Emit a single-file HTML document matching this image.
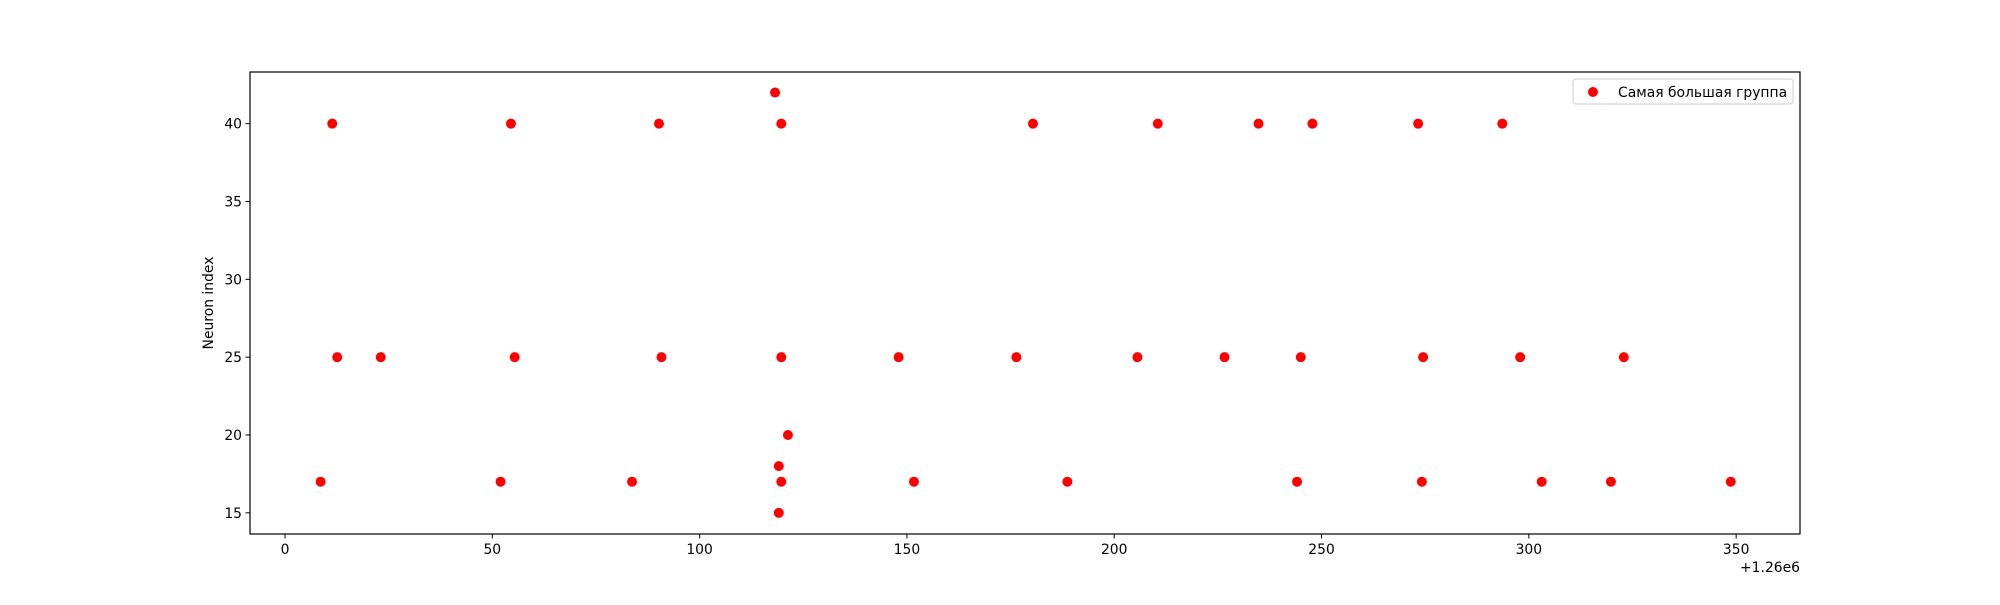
<!DOCTYPE html>
<html><head><meta charset="utf-8"><style>
html,body{margin:0;padding:0;background:#fff;}
svg text{font-family:"DejaVu Sans","Liberation Sans",sans-serif;font-size:13.9px;fill:#000;}
</style></head><body>
<svg id="chart" width="2000" height="600" xmlns="http://www.w3.org/2000/svg">
<rect x="0" y="0" width="2000" height="600" fill="#fff"/>
<g id="marks"></g>
<g id="axes"></g>
</svg>
<script>
const xValues = [11.4,54.5,90.2,119.7,180.4,210.5,234.8,247.8,273.3,293.6,
  118.2,
  12.6,23.1,55.4,90.8,119.7,148.0,176.4,205.6,226.6,245.0,274.5,297.9,322.9,
  121.3,119.1,
  8.6,52.0,83.7,119.7,151.7,188.7,244.1,274.2,303.1,319.8,348.7,
  119.1];
const yValues = [40,40,40,40,40,40,40,40,40,40,
  42,
  25,25,25,25,25,25,25,25,25,25,25,25,25,
  20,18,
  17,17,17,17,17,17,17,17,17,17,17,
  15];
const xTicks = [0,50,100,150,200,250,300,350];
const yTicks = [15,20,25,30,35,40];
const seriesLabel = "Самая большая группа";

const L=250,R=1800,T=72,B=534;
const xMin=-8.44,xMax=365.4,yMin=13.64,yMax=43.32;
const sx=v=>L+(v-xMin)/(xMax-xMin)*(R-L);
const sy=v=>B-(v-yMin)/(yMax-yMin)*(B-T);
const NS="http://www.w3.org/2000/svg";
function mk(tag,attrs,parent){const e=document.createElementNS(NS,tag);for(const k in attrs)e.setAttribute(k,attrs[k]);parent.appendChild(e);return e;}
const marks=document.getElementById('marks'),axes=document.getElementById('axes');
xValues.forEach((x,i)=>{
  const c=mk('circle',{cx:sx(x),cy:sy(yValues[i]),r:5,fill:'#ff0000'},marks);
  
  
});
const frame=mk('rect',{x:L,y:T,width:R-L,height:B-T,fill:'none',stroke:'#000','stroke-width':1.2},axes);


xTicks.forEach(t=>{
  const x=sx(t);
  mk('line',{x1:x,x2:x,y1:B,y2:B+4.5,stroke:'#000','stroke-width':1},axes);
  const tx=mk('text',{x:x,y:B+20,'text-anchor':'middle'},axes);tx.textContent=t;
  
  
});
yTicks.forEach(t=>{
  const y=sy(t);
  mk('line',{x1:L-4.5,x2:L,y1:y,y2:y,stroke:'#000','stroke-width':1},axes);
  const tx=mk('text',{x:L-8,y:y+5,'text-anchor':'end'},axes);tx.textContent=t;
  
  
});
const off=mk('text',{x:R,y:572,'text-anchor':'end'},axes);off.textContent='+1.26e6';


const yl=mk('text',{x:0,y:0,'text-anchor':'middle',transform:'translate(213,303) rotate(-90)'},axes);yl.textContent='Neuron index';


const lg=mk('g',{},axes);


mk('rect',{x:1573,y:79,width:220,height:25,rx:3,fill:'#fff',stroke:'#ccc','stroke-width':1},lg);
const lm=mk('circle',{cx:1593,cy:92,r:5,fill:'#ff0000'},lg);


const lt=mk('text',{x:1618,y:97},lg);lt.textContent=seriesLabel;


</script>
</body></html>
